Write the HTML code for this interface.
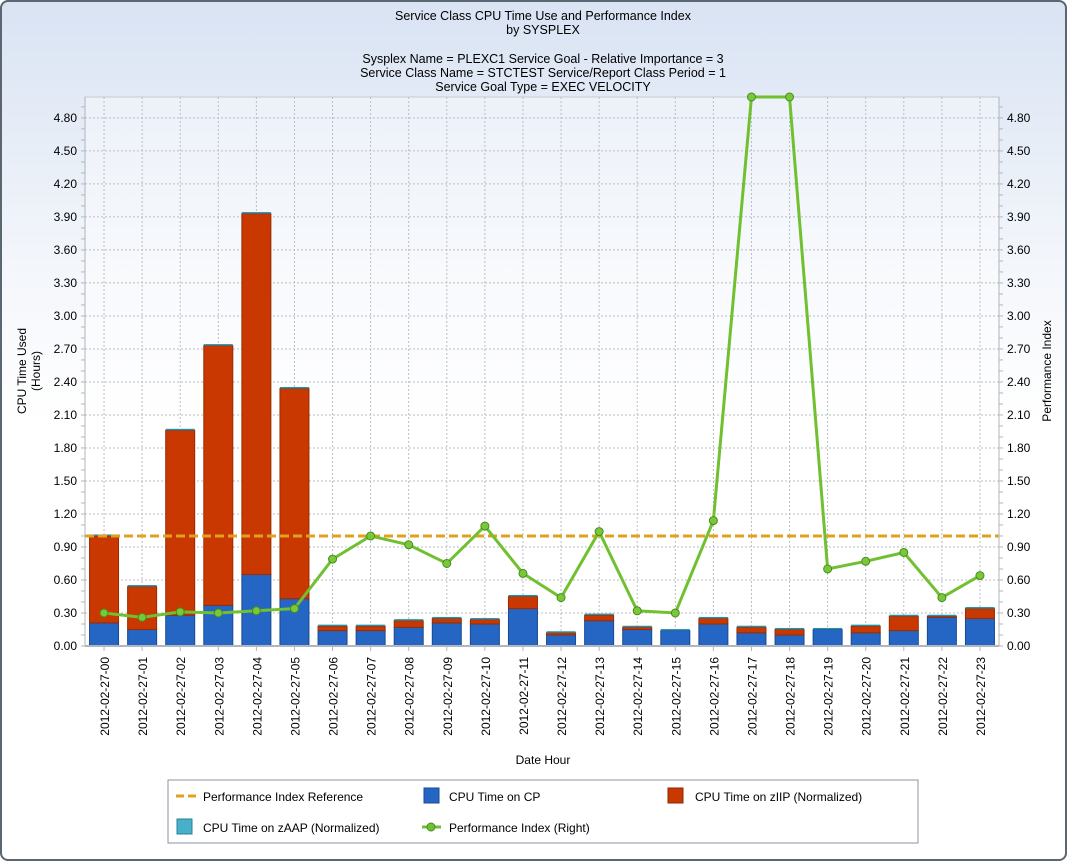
<!DOCTYPE html>
<html><head><meta charset="utf-8"><style>
body{margin:0;width:1067px;height:861px;overflow:hidden;font-family:"Liberation Sans",sans-serif;background:#fff}
#frame{position:absolute;left:0;top:0;width:1063px;height:857px;border:2px solid #5a6670;border-radius:8px;background:linear-gradient(#d9e3f3 0px,#f3f6fb 260px,#ffffff 420px)}
svg{position:absolute;left:0;top:0}
text{font-family:"Liberation Sans",sans-serif;fill:#000}
</style></head><body>
<div id="frame"></div>
<svg id="chart" width="1067" height="861">
<g font-size="12.5" text-anchor="middle">
<text x="543" y="20">Service Class CPU Time Use and Performance Index</text>
<text x="543" y="34">by SYSPLEX</text>
<text x="543" y="63">Sysplex Name = PLEXC1  Service Goal - Relative Importance = 3</text>
<text x="543" y="77">Service Class Name = STCTEST  Service/Report Class Period = 1</text>
<text x="543" y="91">Service Goal Type = EXEC VELOCITY</text>
</g>
<rect x="85" y="97" width="914" height="549" fill="#fff" fill-opacity="0.35" stroke="#c8ccd0"/>
<g id="grid"></g><g id="bars"></g><g id="lines"></g><g id="axes"></g>
<text transform="translate(26,371) rotate(-90)" font-size="12" text-anchor="middle">CPU Time Used</text>
<text transform="translate(40,371) rotate(-90)" font-size="12" text-anchor="middle">(Hours)</text>
<text transform="translate(1051,371) rotate(-90)" font-size="12" text-anchor="middle">Performance Index</text>
<text x="543" y="764" font-size="12" text-anchor="middle">Date Hour</text>
<g>
<rect x="168" y="780" width="750" height="63" fill="#fff" stroke="#8a96a0"/>
<g><line x1="176" y1="796" x2="196" y2="796" stroke="#e0a020" stroke-width="3" stroke-dasharray="8,4"/><text x="203" y="801" font-size="12">Performance Index Reference</text></g>
<g><rect x="424" y="788" width="15" height="15" fill="#2566c4" stroke="#1a4a90"/><text x="449" y="801" font-size="12">CPU Time on CP</text></g>
<g><rect x="668" y="788" width="15" height="15" fill="#c83800" stroke="#8a2800"/><text x="695" y="801" font-size="12">CPU Time on zIIP (Normalized)</text></g>
<g><rect x="177" y="819" width="15" height="15" fill="#48b0c8" stroke="#2a8098"/><text x="203" y="832" font-size="12">CPU Time on zAAP (Normalized)</text></g>
<g><line x1="422" y1="827" x2="441" y2="827" stroke="#70c030" stroke-width="3"/><circle cx="431" cy="827" r="4" fill="#70c030" stroke="#4a8a20"/><text x="449" y="832" font-size="12">Performance Index (Right)</text></g>
</g>
</svg>
<script>
const categories=["2012-02-27-00","2012-02-27-01","2012-02-27-02","2012-02-27-03","2012-02-27-04","2012-02-27-05","2012-02-27-06","2012-02-27-07","2012-02-27-08","2012-02-27-09","2012-02-27-10","2012-02-27-11","2012-02-27-12","2012-02-27-13","2012-02-27-14","2012-02-27-15","2012-02-27-16","2012-02-27-17","2012-02-27-18","2012-02-27-19","2012-02-27-20","2012-02-27-21","2012-02-27-22","2012-02-27-23"];
const cpValues=[0.21,0.15,0.28,0.37,0.65,0.43,0.14,0.14,0.17,0.21,0.20,0.34,0.10,0.23,0.15,0.14,0.20,0.12,0.10,0.15,0.12,0.14,0.26,0.25];
const ziipValues=[0.79,0.39,1.68,2.36,3.28,1.91,0.04,0.04,0.06,0.04,0.04,0.11,0.02,0.05,0.02,0.00,0.05,0.05,0.05,0.00,0.06,0.13,0.01,0.09];
const zaapValues=[0.005,0.005,0.005,0.005,0.005,0.005,0.005,0.005,0.005,0.005,0.005,0.005,0.005,0.005,0.005,0.005,0.005,0.005,0.005,0.005,0.005,0.005,0.005,0.005];
const piValues=[0.30,0.26,0.31,0.30,0.32,0.34,0.79,1.00,0.92,0.75,1.09,0.66,0.44,1.04,0.32,0.30,1.14,4.99,4.99,0.70,0.77,0.85,0.44,0.64];
const piReference=[1.0];
const tickValues=[0,0.3,0.6,0.9,1.2,1.5,1.8,2.1,2.4,2.7,3.0,3.3,3.6,3.9,4.2,4.5,4.8];
const NS="http://www.w3.org/2000/svg";
const X0=85,X1=999,Y0=646,YT=97,YMAX=4.99;
const band=(X1-X0)/categories.length;
function xc(i){return X0+band*(i+0.5);}
function y(v){return Y0-(v/YMAX)*(Y0-YT);}
function mk(p,t,a){const e=document.createElementNS(NS,t);for(const k in a)e.setAttribute(k,a[k]);p.appendChild(e);return e;}
const grid=document.getElementById('grid'),bars=document.getElementById('bars'),lines=document.getElementById('lines'),axes=document.getElementById('axes');
tickValues.forEach((v,i)=>{
 if(v>0){const g=mk(grid,'line',{x1:X0,x2:X1,y1:y(v),y2:y(v),stroke:'#b8bec6','stroke-dasharray':'2,2'});
 
 }
 const t=mk(axes,'text',{x:X0-8,y:y(v)+4,'font-size':'12','text-anchor':'end'});t.textContent=v.toFixed(2);
 
 
 const t2=mk(axes,'text',{x:X1+8,y:y(v)+4,'font-size':'12'});t2.textContent=v.toFixed(2);
 
 
});
for(let v=0;v<=YMAX+0.001;v+=0.1){
 mk(axes,'line',{x1:X0-4,x2:X0,y1:y(v),y2:y(v),stroke:'#b0b6bc'});
 mk(axes,'line',{x1:X1,x2:X1+4,y1:y(v),y2:y(v),stroke:'#b0b6bc'});
}
mk(axes,'line',{x1:X0,x2:X0,y1:YT,y2:Y0,stroke:'#b0b6bc'});
mk(axes,'line',{x1:X1,x2:X1,y1:YT,y2:Y0,stroke:'#b0b6bc'});
mk(axes,'line',{x1:X0,x2:X1,y1:Y0,y2:Y0,stroke:'#b0b6bc','stroke-width':2});
categories.forEach((c,i)=>{
 const x=xc(i);
 const g=mk(grid,'line',{x1:x,x2:x,y1:YT,y2:Y0,stroke:'#b8bec6','stroke-dasharray':'2,2'});
 
 
 mk(axes,'line',{x1:x,x2:x,y1:Y0,y2:Y0+5,stroke:'#b0b6bc'});
 const t=mk(axes,'text',{transform:`translate(${x+5},${Y0+11}) rotate(-90)`,'font-size':'12','text-anchor':'end'});t.textContent=c;
 
 
 const w=29,bx=x-w/2;
 const cp=cpValues[i],zi=ziipValues[i],za=zaapValues[i];
 const r1=mk(bars,'rect',{x:bx,y:y(cp),width:w,height:Y0-y(cp),fill:'#2566c4',stroke:'#1a4a90','stroke-width':1});
 
 
 if(zi>0){const r2=mk(bars,'rect',{x:bx,y:y(cp+zi),width:w,height:y(cp)-y(cp+zi),fill:'#c83800',stroke:'#9a2c00','stroke-width':1});
 
 }
 const r3=mk(bars,'rect',{x:bx,y:y(cp+zi+za)-1,width:w,height:1.5,fill:'#2a90a8'});
 
 
});
const ref=mk(lines,'line',{x1:X0,x2:X1,y1:y(piReference[0]),y2:y(piReference[0]),stroke:'#e0a020','stroke-width':3,'stroke-dasharray':'9,4'});


const pl=mk(lines,'polyline',{points:piValues.map((v,i)=>xc(i)+','+y(v)).join(' '),fill:'none',stroke:'#70c030','stroke-width':3});


piValues.forEach((v,i)=>{
 const c=mk(lines,'circle',{cx:xc(i),cy:y(v),r:4,fill:'#78c838',stroke:'#4a8a20','stroke-width':1});
 
 
});
</script>
</body></html>
